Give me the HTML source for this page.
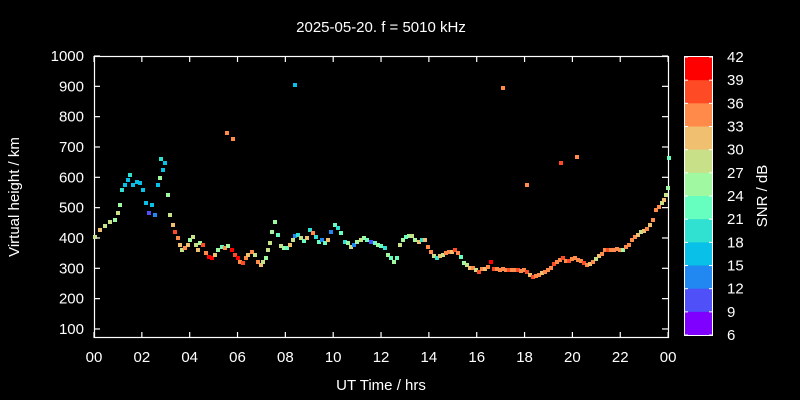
<!DOCTYPE html>
<html><head><style>
html,body{margin:0;padding:0;background:#000;overflow:hidden;width:800px;height:400px;}
svg{display:block;}
svg text{font-family:"Liberation Sans",sans-serif;fill:#fff;}
</style></head><body>
<svg id="s" width="800" height="400" xmlns="http://www.w3.org/2000/svg">
<rect width="800" height="400" fill="#000"/>
<text x="381" y="32" font-size="15" text-anchor="middle">2025-05-20. f = 5010 kHz</text>
<text x="381" y="390" font-size="15" text-anchor="middle">UT Time / hrs</text>
<text transform="translate(19,197) rotate(-90)" font-size="15" text-anchor="middle">Virtual height / km</text>
<text transform="translate(767,196) rotate(-90)" font-size="15" text-anchor="middle">SNR / dB</text>
<g id="ax" stroke="#fff" stroke-width="1.2" fill="none">
<rect x="94.5" y="56.5" width="574" height="281"/>
</g>
<g id="pts"></g>
<g id="cb"></g>
</svg>
<script>
var s=document.getElementById('s'),NS='http://www.w3.org/2000/svg';
function el(t,a,p){var e=document.createElementNS(NS,t);for(var k in a)e.setAttribute(k,a[k]);(p||s).appendChild(e);return e;}
var ax=document.getElementById('ax');
for(var v=100;v<=1000;v+=100){var y=56+(1000-v)*0.3033;
 el('line',{x1:94,y1:y,x2:100,y2:y},ax);el('line',{x1:662,y1:y,x2:668,y2:y},ax);
 var t=el('text',{x:84,y:y+5,'font-size':15,'text-anchor':'end'},s);t.textContent=v;}
for(var h=0;h<=24;h+=2){var x=94+h*23.92;
 el('line',{x1:x,y1:338,x2:x,y2:332},ax);el('line',{x1:x,y1:56,x2:x,y2:62},ax);
 var t=el('text',{x:x,y:362,'font-size':15,'text-anchor':'middle'},s);t.textContent=(h%24<10?'0':'')+(h%24);}
var C=['#ff0000','#ff4a26','#ff8a4a','#f0c070','#c8e088','#a0f8a0','#66ffc0','#30e0d0','#08c0e8','#2088f0','#5050f8','#8000ff'];
var cb=document.getElementById('cb');
for(var i=0;i<12;i++){el('rect',{x:685,y:57+i*23.17,width:27,height:23.6,fill:C[i]},cb);}
el('rect',{x:684.5,y:56.5,width:28,height:279,fill:'none',stroke:'#fff','stroke-width':1},cb);
for(var i=0;i<=12;i++){var y=57+i*23.17;el('line',{x1:685,y1:y,x2:688,y2:y,stroke:'#fff'},cb);el('line',{x1:709,y1:y,x2:712,y2:y,stroke:'#fff'},cb);
 var t=el('text',{x:727,y:y+5,'font-size':15,'text-anchor':'start'},cb);t.textContent=42-3*i;}
var P="95,237,4;100,230,3;105,226,4;110,222,4;115,220,5;118,213,4;120,205,5;122,190,7;125,185,8;128,180,8;130,175,7;133,185,8;137,182,8;140,183,8;143,190,8;146,203,8;149,213,10;152,205,8;155,215,9;158,185,8;160,178,5;161,159,7;163,170,8;165,163,8;168,195,5;170,215,4;173,225,3;175,232,1;178,238,2;180,245,3;182,250,4;185,248,2;188,245,3;190,240,5;193,237,4;196,245,4;198,250,3;200,243,5;203,245,1;206,253,2;209,257,0;212,258,0;215,255,3;218,250,5;222,247,6;225,248,2;227,133,2;233,139,2;228,246,5;232,250,0;235,255,1;238,258,0;240,262,2;243,263,1;246,258,2;248,255,3;252,252,2;255,255,4;258,262,2;261,265,3;263,262,4;266,258,5;268,250,4;270,243,4;272,232,5;275,222,5;278,235,6;281,246,4;284,248,5;287,248,6;290,245,3;293,240,4;295,236,9;295,85,8;298,235,7;301,238,4;304,241,6;307,238,3;310,230,7;313,233,2;316,237,7;319,242,6;322,240,9;325,243,6;328,240,3;331,232,9;335,225,6;338,228,7;341,233,6;345,242,7;348,243,5;351,247,4;354,245,9;357,242,5;361,240,4;364,238,5;367,240,6;371,242,10;375,243,6;378,245,5;381,246,6;385,248,7;388,255,5;391,258,6;394,262,5;397,258,6;400,245,4;403,240,5;406,237,6;409,236,5;412,236,4;415,240,5;419,242,3;422,240,7;425,240,3;428,247,2;431,252,2;434,256,4;437,258,7;440,256,3;443,255,4;446,253,2;449,252,2;452,252,3;455,250,1;458,253,2;461,257,6;464,263,5;467,265,4;470,268,3;473,268,2;476,270,4;479,272,1;482,269,2;485,269,3;488,267,2;491,262,0;494,269,1;497,269,2;500,270,2;503,269,2;503,88,2;506,270,2;509,270,1;512,270,2;515,270,2;518,270,1;521,271,2;524,270,2;527,272,1;527,185,2;530,275,3;533,277,1;536,276,2;539,275,2;542,273,3;545,272,2;548,270,2;551,268,2;554,264,1;557,262,2;560,260,2;561,163,1;563,258,1;566,261,2;569,261,1;572,259,2;575,258,2;577,157,2;578,260,2;581,261,2;584,263,1;587,265,2;590,264,3;593,262,2;596,259,4;599,256,3;602,254,2;605,250,2;608,250,1;611,250,2;614,250,2;617,249,2;620,250,2;623,250,5;626,247,2;629,245,2;632,240,2;635,237,2;638,235,3;641,232,4;644,231,3;647,229,2;650,225,3;653,220,2;656,210,2;659,207,2;662,203,4;664,200,3;666,195,4;668,188,5;669,158,6";
var g=document.getElementById('pts');
P.split(';').forEach(function(q){var a=q.split(',').map(Number);el('rect',{x:a[0]-2,y:a[1]-2,width:4,height:4,fill:C[a[2]]},g);});
</script>
</body></html>
